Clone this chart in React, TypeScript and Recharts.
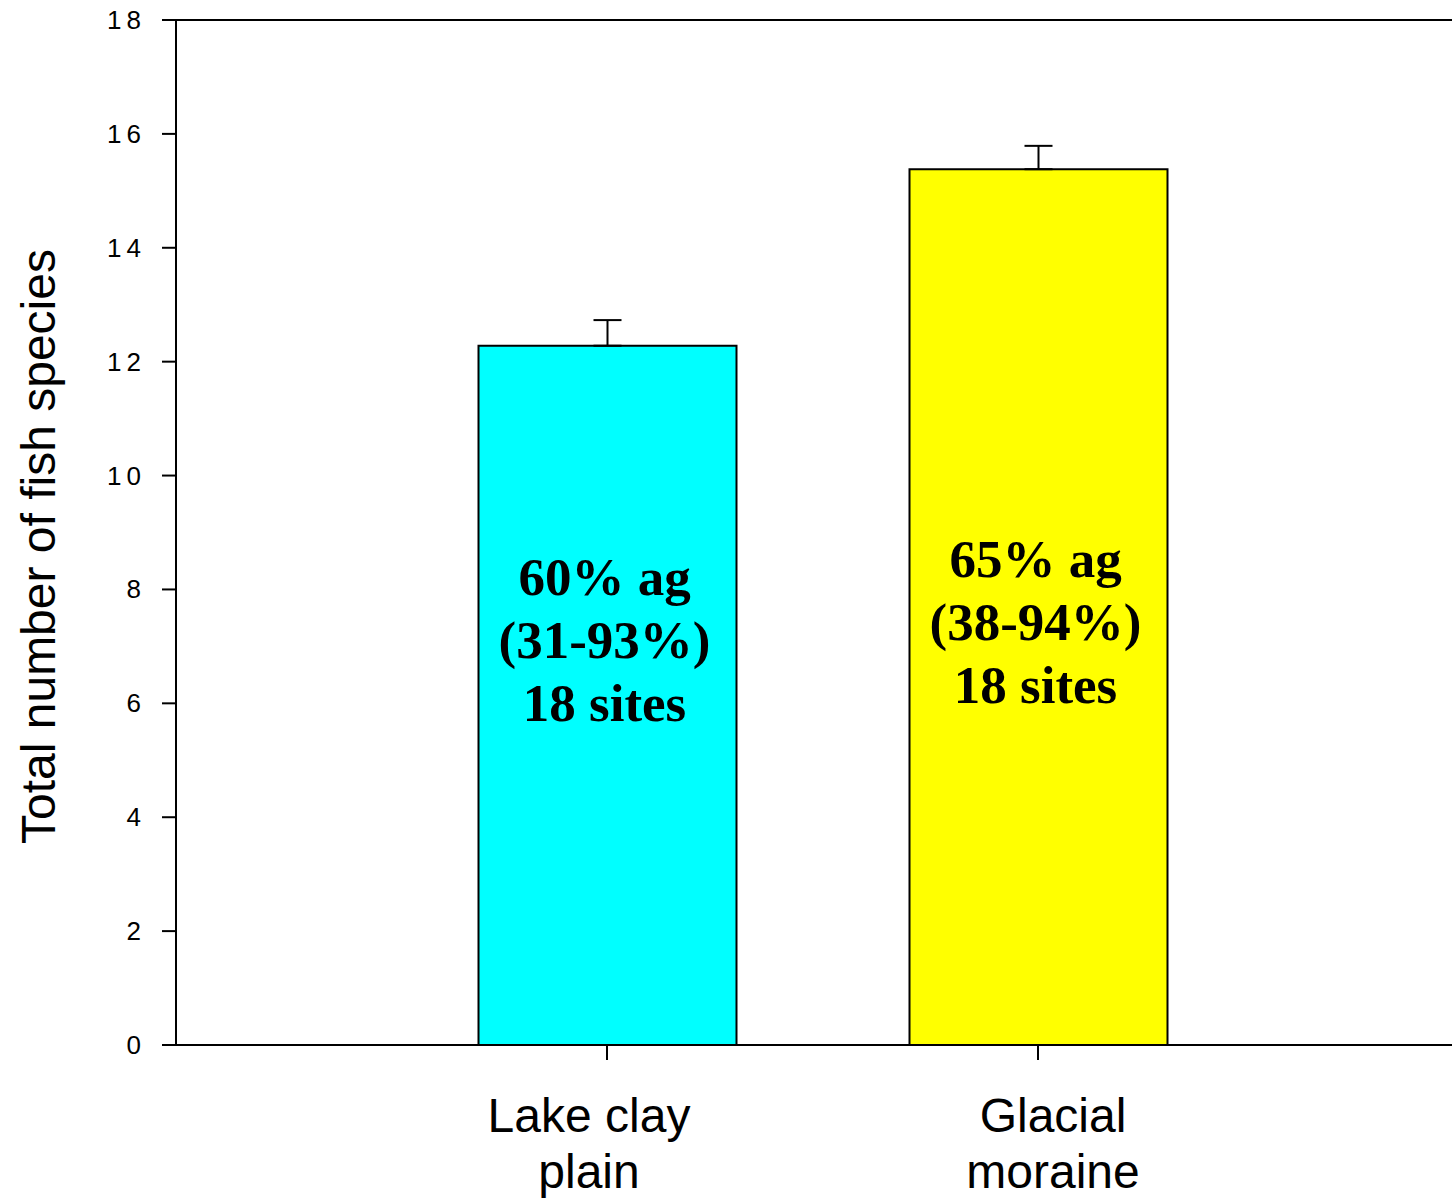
import React from 'react';
import { BarChart, Bar, XAxis, YAxis, Cell, ErrorBar, LabelList, ReferenceLine } from 'recharts';

const categories = ['Lake clay\nplain', 'Glacial\nmoraine'];
const speciesMean = [12.28, 15.38];
const speciesErr = [0.45, 0.41];
const agShare = ['60% ag', '65% ag'];
const agRange = ['(31-93%)', '(38-94%)'];
const siteCount = ['18 sites', '18 sites'];
const yTicks = [0, 2, 4, 6, 8, 10, 12, 14, 16, 18];

const barColors = ['#00ffff', '#ffff00'];

const data = categories.map((name, i) => ({
  name,
  mean: speciesMean[i],
  err: [0, speciesErr[i]],
  note: [agShare[i], agRange[i], siteCount[i]],
}));

const SANS = '"Liberation Sans", Arial, sans-serif';
const SERIF = '"Liberation Serif", "Times New Roman", serif';

// baseline of the middle note line in each bar, in y-axis units
const noteMid = [6.8, 7.11];
// the category labels are not quite centred on their ticks in the original
const labelShift = [-18, 15];

const BarNote = (props: any) => {
  const vb = props.viewBox || props;
  const i = props.index;
  const row = data[i];
  if (!row || vb == null) return null;
  const { x, y, width, height } = vb;
  const perUnit = height / row.mean;
  const midY = y + height - noteMid[i] * perUnit;
  const cx = x + width / 2 - 3;
  return (
    <text textAnchor="middle" fontFamily={SERIF} fontWeight="bold" fontSize={53} fill="#000">
      {row.note.map((t, k) => (
        <tspan key={k} x={cx} y={midY + (k - 1) * 63}>{t}</tspan>
      ))}
    </text>
  );
};

const CategoryTick = (props: any) => {
  const { x, y, payload, index } = props;
  const lines = String(payload.value).split('\n');
  const dx = labelShift[index] || 0;
  return (
    <text textAnchor="middle" fontFamily={SANS} fontSize={48} fill="#000">
      {lines.map((l, k) => (
        <tspan key={k} x={x + dx} y={y + 70 + k * 56}>{l}</tspan>
      ))}
    </text>
  );
};

const ValueTick = (props: any) => {
  const { x, y, payload } = props;
  return (
    <text x={x} y={y} dy={9} textAnchor="end" fontFamily={SANS} fontSize={26} letterSpacing={5} fill="#000">
      {payload.value}
    </text>
  );
};

const YTitle = (props: any) => {
  const vb = props.viewBox || { y: 20, height: 1025 };
  const cy = vb.y + vb.height / 2 + 14;
  return (
    <text x={55} y={cy} transform={`rotate(-90, 55, ${cy})`} textAnchor="middle" fontFamily={SANS} fontSize={48} fill="#000">
      Total number of fish species
    </text>
  );
};

export default function App() {
  return (
    <div style={{ position: 'absolute', left: 0, top: 0, width: 1452, height: 1201, overflow: 'hidden', background: '#fff' }}>
      <BarChart width={1470} height={1201} data={data} margin={{ top: 20, right: 1, left: 0, bottom: 0 }}>
        <XAxis
          dataKey="name"
          type="category"
          padding={{ left: 215.5, right: 215.5 }}
          height={156}
          tickSize={15}
          interval={0}
          tick={<CategoryTick />}
          axisLine={{ stroke: '#000', strokeWidth: 2 }}
          tickLine={{ stroke: '#000', strokeWidth: 2 }}
        />
        <YAxis
          domain={[0, 18]}
          ticks={yTicks}
          width={176}
          tickSize={14}
          tickMargin={16}
          tick={<ValueTick />}
          axisLine={{ stroke: '#000', strokeWidth: 2 }}
          tickLine={{ stroke: '#000', strokeWidth: 2 }}
          label={<YTitle />}
        />
        <ReferenceLine y={18} stroke="#000" strokeWidth={2} />
        <Bar dataKey="mean" barSize={258} stroke="#000" strokeWidth={2} isAnimationActive={false}>
          {data.map((d, i) => (
            <Cell key={i} fill={barColors[i]} />
          ))}
          <ErrorBar dataKey="err" direction="y" width={14} stroke="#000" strokeWidth={2} />
          <LabelList dataKey="mean" content={BarNote} />
        </Bar>
      </BarChart>
    </div>
  );
}
